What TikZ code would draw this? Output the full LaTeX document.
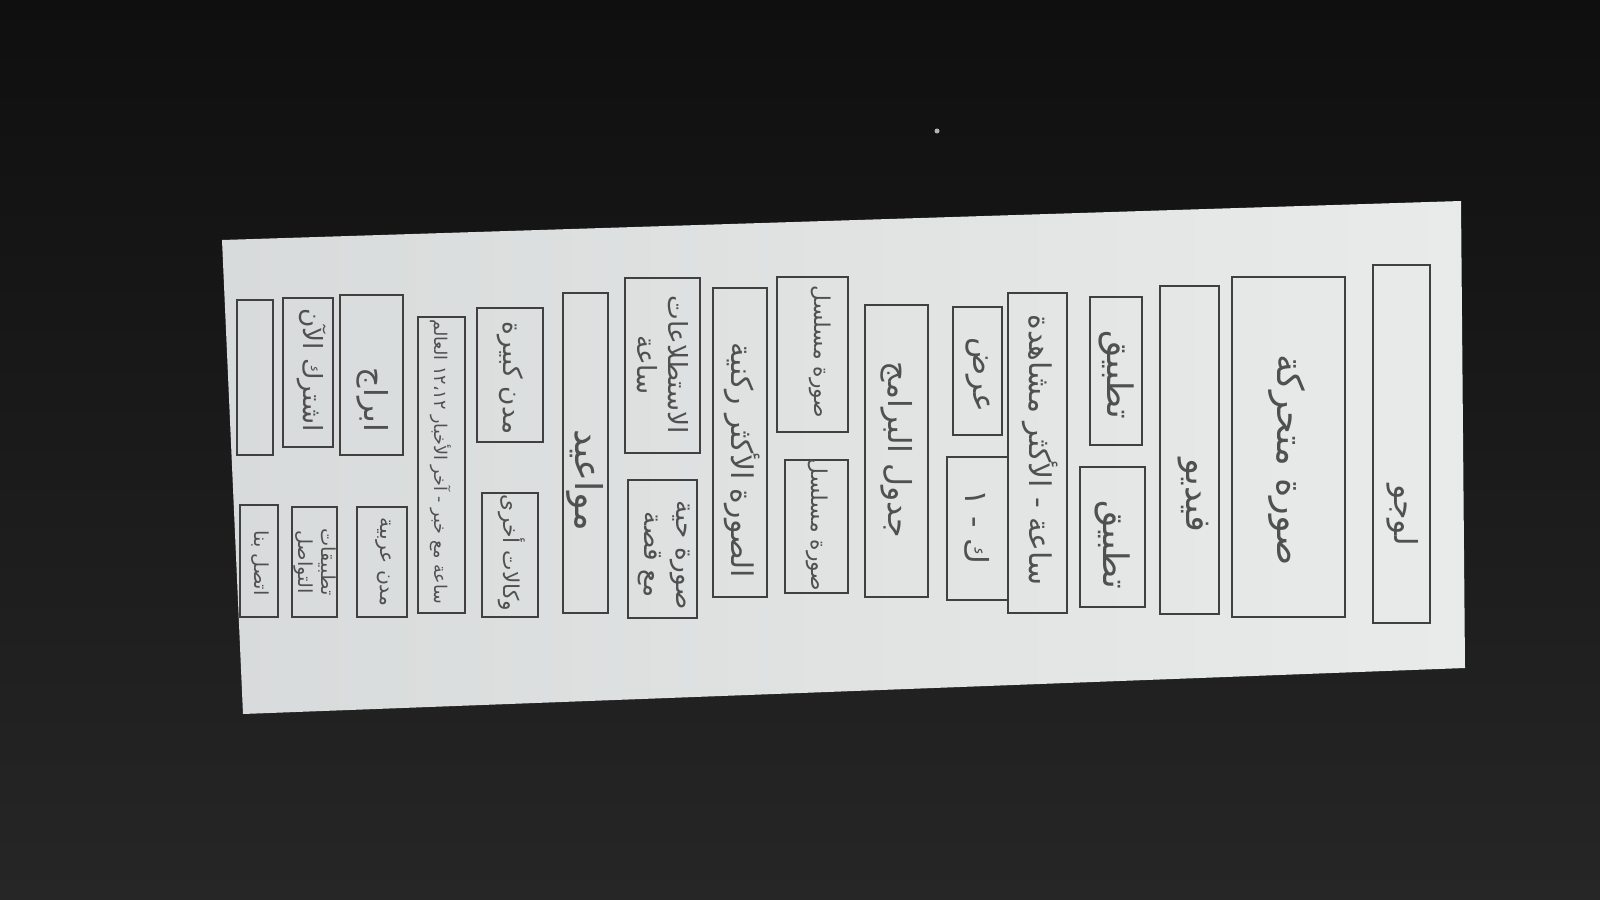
\documentclass[tikz,border=0pt]{standalone}
\usepackage{fontspec}
\usepackage{tikz}
\usetikzlibrary{fit}
\newfontfamily\arabicfont[Script=Arabic]{DejaVu Sans}
\TeXXeTstate=1
\definecolor{inkc}{HTML}{404040}
\definecolor{textc}{HTML}{505050}
\definecolor{paperL}{HTML}{D8DBDB}
\definecolor{paperR}{HTML}{E9EBEA}
\definecolor{bgtop}{HTML}{0F0F0F}
\definecolor{bgbot}{HTML}{262626}
\newcommand{\wfbox}[5]{\path (#2,#3) coordinate (#1-a) (#4,#5) coordinate (#1-b);
  \node[wfbox, fit=(#1-a)(#1-b)] (#1) {};}
\newcommand{\ar}[1]{\beginR #1\endR}
\newcommand{\fs}[1]{\arabicfont\fontsize{#1}{1.2\dimexpr#1pt\relax}\selectfont}

\begin{document}
\begin{tikzpicture}[
    x=0.1mm, y=-0.1mm,
    wfbox/.style={draw=inkc, line width=0.75pt, inner sep=0pt},
    lbl/.style={rotate=-90, text=textc, inner sep=0pt, align=center, font=\fs{10}},
    big/.style={font=\fs{10.5}},
    mid/.style={font=\fs{9}},
    small/.style={font=\fs{7.5}},
    tiny/.style={font=\fs{6.2}}]
\useasboundingbox (0,0) rectangle (1600,900);
% background and sheet
\shade[top color=bgtop, bottom color=bgbot] (0,0) rectangle (1600,900);
\fill[gray!60] (937,131) circle (2.5);
\shade[left color=paperL, right color=paperR] (222,240) -- (1461,201) -- (1465,668) -- (243,714) -- cycle;

% page top: logo, banner, video
\wfbox{logo}{1373}{265}{1430}{623}
\node[lbl, mid] (logo-t) at (1403,515) {\ar{لوجو}};
\wfbox{banner}{1232}{277}{1345}{617}
\node[lbl, big] (banner-t) at (1287,460) {\ar{صورة متحركة}};
\wfbox{video}{1160}{286}{1219}{614}
\node[lbl] (video-t) at (1193,495) {\ar{فيديو}};

% apps
\wfbox{appA}{1090}{297}{1142}{445}
\node[lbl] (appA-t) at (1117,375) {\ar{تطبيق}};
\wfbox{appB}{1080}{467}{1145}{607}
\node[lbl] (appB-t) at (1113,545) {\ar{تطبيق}};

\wfbox{bestsell}{1008}{293}{1067}{613}
\node[lbl, font=\fs{8.5}] (bestsell-t) at (1040,450) {\ar{ساعة - الأكثر مشاهدة}};
\wfbox{offerA}{953}{307}{1002}{435}
\node[lbl, mid] (offerA-t) at (978,375) {\ar{عرض}};
\wfbox{offerB}{947}{457}{1008}{600}
\node[lbl, mid] (offerB-t) at (977,527) {\ar{ك - ١}};

\wfbox{schedule}{865}{305}{928}{597}
\node[lbl, mid] (schedule-t) at (897,450) {\ar{جدول البرامج}};

% series
\wfbox{seriesA}{777}{277}{848}{432}
\node[lbl, tiny] (seriesA-t) at (820,352) {\ar{صورة مسلسل}};
\wfbox{seriesB}{785}{460}{848}{593}
\node[lbl, tiny] (seriesB-t) at (817,525) {\ar{صورة مسلسل}};

\wfbox{popular}{713}{288}{767}{597}
\node[lbl, font=\fs{8.5}] (popular-t) at (742,460) {\ar{الصورة الأكثر ركنية}};

% polls
\wfbox{pollA}{625}{278}{700}{453}
\node[lbl, small] (pollA-t) at (663,365) {\ar{الاستطلاعات}\\\ar{ساعة}};
\wfbox{pollB}{628}{480}{697}{618}
\node[lbl, small] (pollB-t) at (664,555) {\ar{صورة حية}\\\ar{مع قصة}};

\wfbox{times}{563}{293}{608}{613}
\node[lbl, big] (times-t) at (585,480) {\ar{مواعيد}};

% cities
\wfbox{citiesA}{477}{308}{543}{442}
\node[lbl, small] (citiesA-t) at (510,378) {\ar{مدن كبيرة}};
\wfbox{agencies}{482}{493}{538}{617}
\node[lbl, tiny] (agencies-t) at (512,553) {\ar{وكالات أخرى}};

\wfbox{shows}{418}{317}{465}{613}
\node[lbl, font=\fs{5}] (shows-t) at (441,462) {\ar{ساعة مع خبر - آخر الأخبار ١٢،١٢ العالم}};

% bottom rows
\wfbox{horoscope}{340}{295}{403}{455}
\node[lbl, mid] (horoscope-t) at (373,400) {\ar{ابراج}};
\wfbox{arabcities}{357}{507}{407}{617}
\node[lbl, font=\fs{5.8}] (arabcities-t) at (383,562) {\ar{مدن عربية}};
\wfbox{subscribe}{283}{298}{333}{447}
\node[lbl, small] (subscribe-t) at (312,370) {\ar{اشترك الآن}};
\wfbox{apps}{292}{507}{337}{617}
\node[lbl, font=\fs{5.5}] (apps-t) at (315,562) {\ar{تطبيقات}\\\ar{التواصل}};
\wfbox{blank}{237}{300}{273}{455}
\wfbox{contact}{240}{505}{278}{617}
\node[lbl, font=\fs{5.5}] (contact-t) at (260,563) {\ar{اتصل بنا}};

\end{tikzpicture}
\end{document}
